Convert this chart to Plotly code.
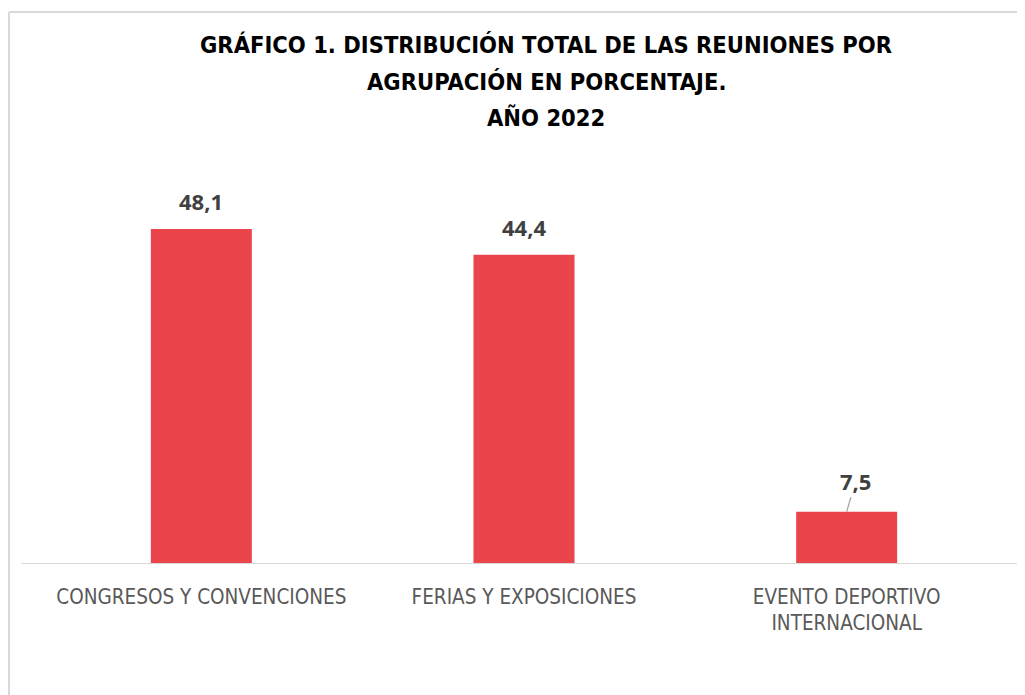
import plotly.graph_objects as go

categories = ["CONGRESOS Y CONVENCIONES", "FERIAS Y EXPOSICIONES", "EVENTO DEPORTIVO<br>INTERNACIONAL"]
values = [48.1, 44.4, 7.5]
value_labels = ["48,1", "44,4", "7,5"]
title_lines = ["GRÁFICO 1. DISTRIBUCIÓN TOTAL DE LAS REUNIONES POR",
               "AGRUPACIÓN EN PORCENTAJE.",
               "AÑO 2022"]

W, H = 1025, 695
ml, mr, mt, mb = 32, 25, 142, 139
pw, ph = W - ml - mr, H - mt - mb

def px_x(p):
    return (p - ml) / pw

def px_y(p):
    return (H - mb - p) / ph

fig = go.Figure()
fig.add_trace(go.Bar(
    x=categories, y=values,
    marker=dict(color="#E9454B", line=dict(width=0)),
    width=0.313, hoverinfo="skip",
))

label_font = dict(family="Open Sans", size=22, color="#404040")
for i, (c, v, t) in enumerate(zip(categories, values, value_labels)):
    if i < 2:
        fig.add_annotation(x=c, y=v, text="<b>%s</b>" % t, showarrow=False,
                           yanchor="bottom", yshift=11, font=label_font)
    else:
        fig.add_annotation(x=c, y=v, text="<b>%s</b>" % t, showarrow=True,
                           arrowhead=0, arrowwidth=1.3, arrowcolor="#A6A6A6",
                           ax=9, ay=-31, font=label_font)

# title lines
title_font = dict(family="DejaVu Sans Condensed", size=23.5, color="#000000")
for line, yc in zip(title_lines, [37, 74, 110]):
    fig.add_annotation(xref="paper", yref="paper", x=px_x(538), y=px_y(yc),
                       xanchor="center", yanchor="middle", showarrow=False,
                       text="<b>%s</b>" % line, font=title_font)

# axis baseline
fig.add_shape(type="line", xref="paper", yref="y", x0=px_x(13), x1=px_x(1030), y0=0, y1=0,
              line=dict(color="#D9D9D9", width=2))
# chart frame
fig.add_shape(type="line", xref="paper", yref="paper", x0=px_x(1), x1=px_x(1), y0=px_y(4), y1=px_y(700),
              line=dict(color="#D9D9D9", width=2))
fig.add_shape(type="line", xref="paper", yref="paper", x0=px_x(1), x1=px_x(1030), y0=px_y(4), y1=px_y(4),
              line=dict(color="#D9D9D9", width=2))

fig.update_layout(
    width=W, height=H,
    margin=dict(l=ml, r=mr, t=mt, b=mb, autoexpand=False),
    paper_bgcolor="white", plot_bgcolor="white",
    showlegend=False,
    xaxis=dict(showline=False, showgrid=False, ticks="", ticklabelstandoff=18, automargin=False,
               tickfont=dict(family="DejaVu Sans Condensed", size=20.5, color="#595959")),
    yaxis=dict(visible=False, range=[0, ph / 6.965], showgrid=False, zeroline=False, automargin=False),
)

fig.write_html("out.html", post_script="document.body.style.overflow='hidden';")
